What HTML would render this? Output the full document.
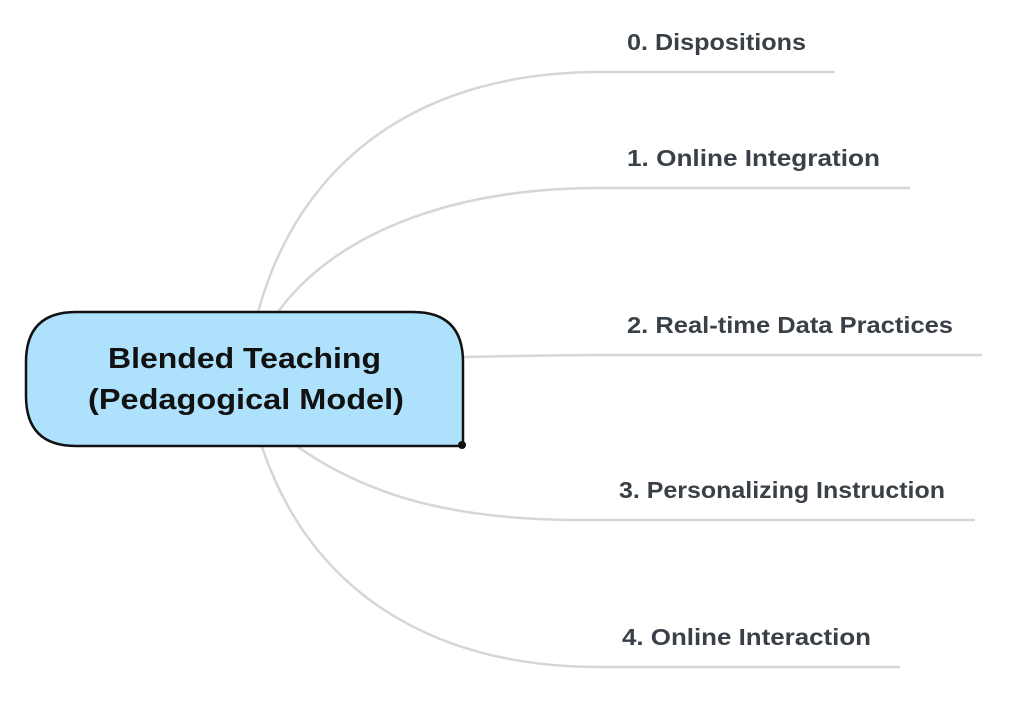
<!DOCTYPE html>
<html><head><meta charset="utf-8"><style>
html,body{margin:0;padding:0;background:#fff;}
svg{display:block}
text{font-family:"Liberation Sans",sans-serif;font-weight:bold;}
</style></head><body>
<svg width="1024" height="701" viewBox="0 0 1024 701">
<g fill="none" stroke="#d3d7db" stroke-width="2.5">
<path d="M258 312 C 300 160, 420 72, 600 72 L 835 72"/>
<path d="M278 312 C 330 240, 440 188, 600 188 L 910 188"/>
<path d="M463 357 C 520 356, 560 355, 600 355 L 982 355"/>
<path d="M298 447 C 360 490, 440 520, 580 520 L 975 520"/>
<path d="M262 447 C 310 590, 430 667, 600 667 L 900 667"/>
</g>
<path d="M76 312 L 413 312 Q 463 312 463 362 L 463 446 L 76 446 Q 26 446 26 396 L 26 362 Q 26 312 76 312 Z" fill="#ade1fc" stroke="#111" stroke-width="2.5"/>
<circle cx="462" cy="445" r="4" fill="#111"/>
<text x="108" y="368" font-size="29" textLength="273" lengthAdjust="spacingAndGlyphs" fill="#111">Blended Teaching</text>
<text x="88" y="409" font-size="29" textLength="316" lengthAdjust="spacingAndGlyphs" fill="#111">(Pedagogical Model)</text>
<g fill="#3a4047" font-size="23">
<text x="627" y="50" textLength="179" lengthAdjust="spacingAndGlyphs">0. Dispositions</text>
<text x="627" y="166" textLength="253" lengthAdjust="spacingAndGlyphs">1. Online Integration</text>
<text x="627" y="333" textLength="326" lengthAdjust="spacingAndGlyphs">2. Real-time Data Practices</text>
<text x="619" y="498" textLength="326" lengthAdjust="spacingAndGlyphs">3. Personalizing Instruction</text>
<text x="622" y="645" textLength="249" lengthAdjust="spacingAndGlyphs">4. Online Interaction</text>
</g>
</svg>
</body></html>
